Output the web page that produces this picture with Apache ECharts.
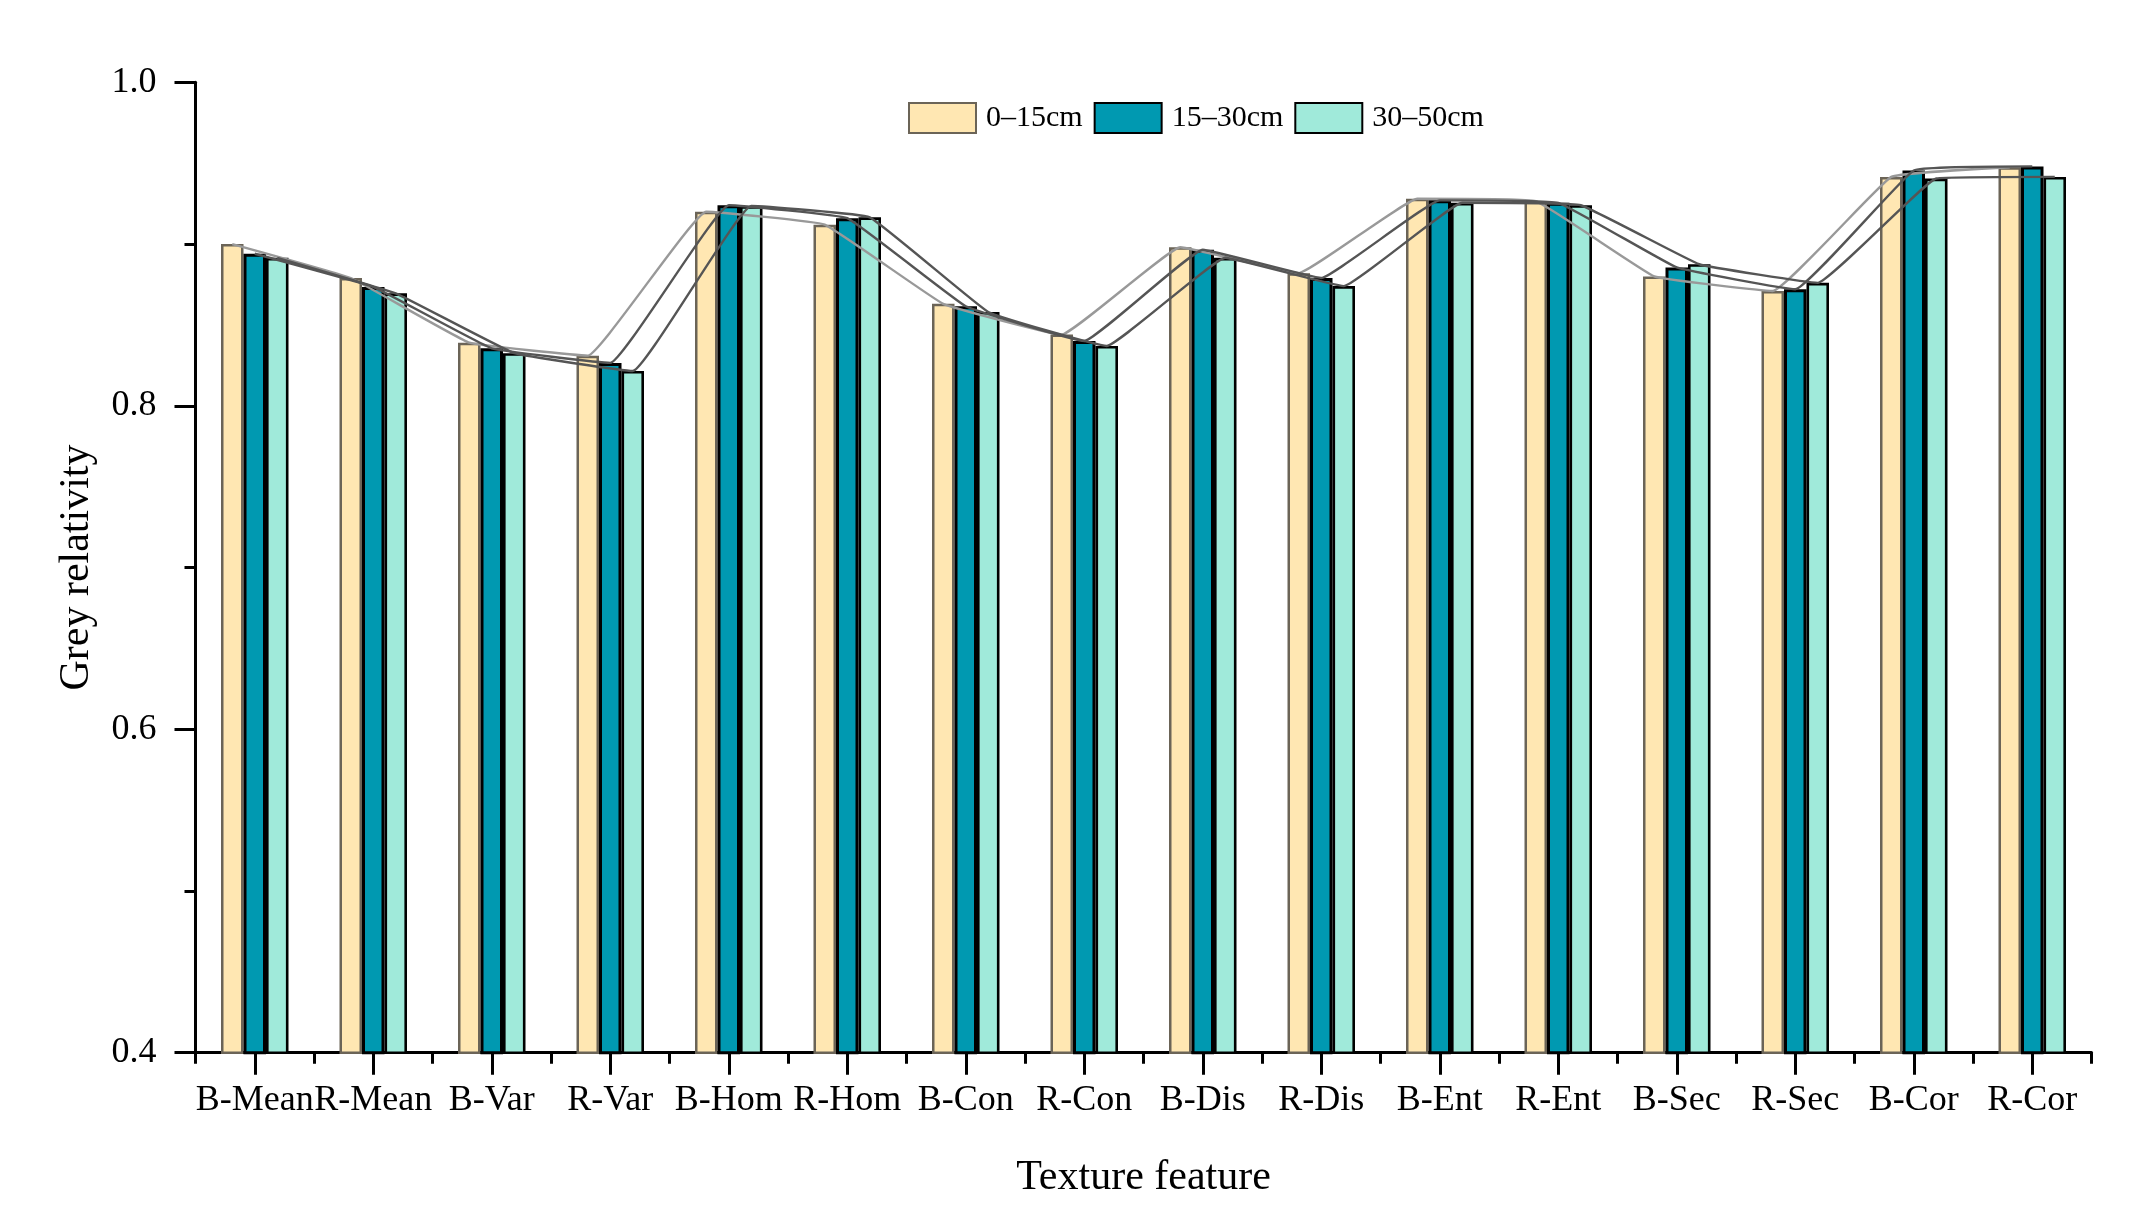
<!DOCTYPE html>
<html>
<head>
<meta charset="utf-8">
<script src="https://cdn.jsdelivr.net/npm/echarts@6/dist/echarts.min.js"></script>
<style>
html,body{margin:0;padding:0;background:#fff;}
#main{width:2144px;height:1230px;}
</style>
</head>
<body>
<div id="main"></div>
<script>
var categories = ['B-Mean','R-Mean','B-Var','R-Var','B-Hom','R-Hom','B-Con','R-Con','B-Dis','R-Dis','B-Ent','R-Ent','B-Sec','R-Sec','B-Cor','R-Cor'];
var seriesNames = ['0\u201315cm','15\u201330cm','30\u201350cm'];
var depth0_15 = [0.900,0.879,0.839,0.831,0.920,0.912,0.863,0.844,0.898,0.882,0.928,0.9265,0.880,0.871,0.9415,0.9475];
var depth15_30 = [0.894,0.8735,0.8355,0.8265,0.924,0.916,0.8615,0.840,0.8965,0.879,0.927,0.9255,0.8855,0.872,0.9455,0.948];
var depth30_50 = [0.8915,0.8695,0.8325,0.8215,0.9235,0.9165,0.858,0.837,0.8915,0.874,0.9255,0.924,0.8875,0.876,0.9405,0.9415];
var yTicks = ['0.4','0.6','0.8','1.0'];

var W = 2144, H = 1230;
var gridL = 195.5, gridR = 52.5, gridT = 82.3, gridB = 177.3;
var barW = 22.5;
var catW = (W - gridL - gridR) / categories.length;
var FONT = '"Liberation Serif","Times New Roman",serif';

var fills = ['#FFE7B2','#0099B1','#A0EADA'];
var borders = ['#6b6457','#000000','#000000'];
var borderW = [2.5,3,2.6];
var lineColors = ['#999999','#555555','#555555'];
var allData = [depth0_15, depth15_30, depth30_50];

var series = [];
allData.forEach(function(d, k){
  series.push({
    name: seriesNames[k], type: 'bar', xAxisIndex: 0, yAxisIndex: 0,
    barWidth: barW, barGap: '0%',
    itemStyle: {color: fills[k], borderColor: borders[k], borderWidth: borderW[k]},
    data: d, z: 2
  });
});
allData.forEach(function(d, k){
  var off = (k - 1) * barW / catW;
  series.push({
    name: 'line' + k, type: 'line', xAxisIndex: 1, yAxisIndex: 0,
    smooth: 0.08, showSymbol: false, symbol: 'none',
    lineStyle: {color: lineColors[k], width: 2.4},
    data: d.map(function(v, i){ return [i + 0.5 + off, v]; }),
    z: 5, silent: true
  });
});

var chart = echarts.init(document.getElementById('main'));
chart.setOption({
  animation: false,
  backgroundColor: '#fff',
  grid: {left: gridL, right: gridR, top: gridT, bottom: gridB, containLabel: false},
  legend: {
    data: seriesNames, left: 908, top: 102, padding: 0,
    itemWidth: 67, itemHeight: 30, itemGap: 11, icon: 'rect',
    textStyle: {fontFamily: FONT, fontSize: 30, color: '#000', padding: [0,0,0,5]}
  },
  xAxis: [{
    type: 'category', data: categories, position: 'bottom',
    name: 'Texture feature', nameLocation: 'middle', nameGap: 104,
    nameTextStyle: {fontFamily: FONT, fontSize: 42, color: '#000'},
    axisLine: {lineStyle: {color: '#000', width: 3}},
    axisTick: {show: true, alignWithLabel: true, length: 22, lineStyle: {color: '#000', width: 3}},
    axisLabel: {fontFamily: FONT, fontSize: 36, color: '#000', margin: 30, interval: 0},
    splitLine: {show: false}
  },{
    type: 'value', min: 0, max: 16, interval: 1, position: 'bottom',
    axisLine: {show: false},
    axisTick: {show: true, length: 11, lineStyle: {color: '#000', width: 3}},
    axisLabel: {show: false}, splitLine: {show: false}
  }],
  yAxis: {
    type: 'value', min: 0.4, max: 1.0, interval: 0.2,
    name: 'Grey relativity', nameLocation: 'middle', nameGap: 98, nameRotate: 90,
    nameTextStyle: {fontFamily: FONT, fontSize: 42, color: '#000'},
    axisLine: {show: true, lineStyle: {color: '#000', width: 3}},
    axisTick: {show: true, length: 21, lineStyle: {color: '#000', width: 3}},
    minorTick: {show: true, splitNumber: 2, length: 11, lineStyle: {color: '#000', width: 3}},
    axisLabel: {fontFamily: FONT, fontSize: 36, color: '#000', margin: 39,
      formatter: function(v){ var s = v.toFixed(1); return yTicks.indexOf(s) >= 0 ? s : ''; }},
    splitLine: {show: false}, minorSplitLine: {show: false}
  },
  series: series
});
</script>
</body>
</html>
